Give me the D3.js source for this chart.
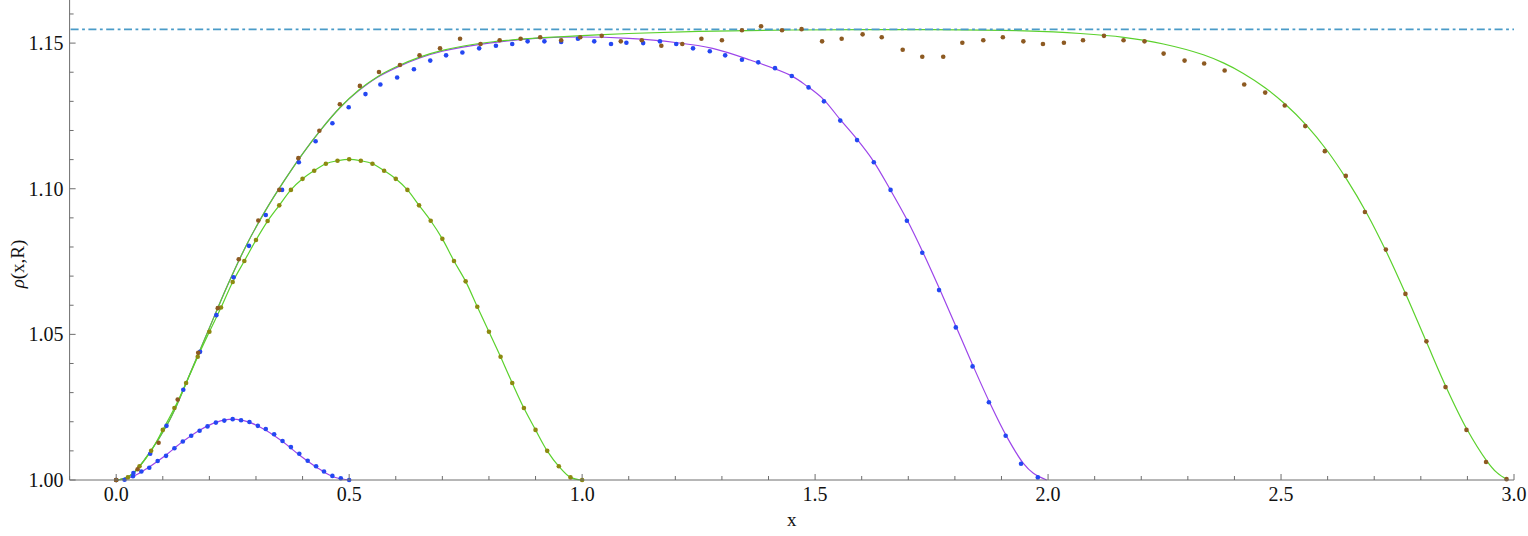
<!DOCTYPE html>
<html>
<head>
<meta charset="utf-8">
<script src="https://cdn.jsdelivr.net/npm/d3@7"></script>
<style>
  html, body { margin: 0; padding: 0; background: #fff; }
  svg { display: block; }
</style>
</head>
<body>
<svg id="chart" width="1528" height="536"></svg>
<script>
// ---------------- data ----------------
const xTicksMajor = [0.0, 0.5, 1.0, 1.5, 2.0, 2.5, 3.0];
const xTickLabels = ["0.0", "0.5", "1.0", "1.5", "2.0", "2.5", "3.0"];
const yTicksMajor = [1.00, 1.05, 1.10, 1.15];
const yTickLabels = ["1.00", "1.05", "1.10", "1.15"];
const refLevel = [1.1547];

// L = 0.5 : blue points (simulation) / purple curve
const dotsL05 = [[0,1.0000],[0.018,1.0001],[0.036,1.0013],[0.054,1.0029],[0.071,1.0042],[0.089,1.0065],[0.107,1.0083],[0.125,1.0109],[0.143,1.0132],[0.161,1.0152],[0.179,1.0169],[0.196,1.0184],[0.214,1.0197],[0.232,1.0204],[0.250,1.0209],[0.268,1.0205],[0.286,1.0199],[0.304,1.0186],[0.321,1.0175],[0.339,1.0157],[0.357,1.0134],[0.375,1.0113],[0.393,1.0090],[0.411,1.0066],[0.429,1.0047],[0.446,1.0029],[0.464,1.0014],[0.482,1.0006],[0.500,1.0000]];
const curveL05 = [[0,1.0000],[0.036,1.0012],[0.071,1.0045],[0.107,1.0086],[0.143,1.0132],[0.179,1.0171],[0.214,1.0198],[0.250,1.0209],[0.286,1.0198],[0.321,1.0171],[0.357,1.0132],[0.393,1.0086],[0.429,1.0045],[0.464,1.0012],[0.500,1.0000]];

// L = 1 : olive points / green curve
const dotsL1 = [[0,1.0000],[0.025,1.0009],[0.05,1.0047],[0.075,1.0100],[0.1,1.0172],[0.125,1.0247],[0.15,1.0333],[0.175,1.0423],[0.2,1.0509],[0.225,1.0592],[0.25,1.0680],[0.275,1.0752],[0.3,1.0824],[0.325,1.0889],[0.35,1.0943],[0.375,1.0996],[0.4,1.1034],[0.425,1.1062],[0.45,1.1086],[0.475,1.1096],[0.5,1.1101],[0.525,1.1096],[0.55,1.1086],[0.575,1.1062],[0.6,1.1034],[0.625,1.0996],[0.65,1.0943],[0.675,1.0890],[0.7,1.0828],[0.725,1.0752],[0.75,1.0682],[0.775,1.0595],[0.8,1.0509],[0.825,1.0423],[0.85,1.0333],[0.875,1.0247],[0.9,1.0172],[0.925,1.0100],[0.95,1.0047],[0.975,1.0009],[1.0,1.0000]];
const curveL1 = dotsL1;

// L = 2 : blue points / purple curve
const dotsL2 = [[0,1.0000],[0.037,1.0024],[0.073,1.0090],[0.108,1.0186],[0.144,1.0310],[0.180,1.0440],[0.215,1.0566],[0.252,1.0696],[0.285,1.0804],[0.321,1.0910],[0.356,1.0996],[0.392,1.1091],[0.428,1.1163],[0.464,1.1225],[0.499,1.1280],[0.535,1.1325],[0.567,1.1358],[0.603,1.1382],[0.639,1.1410],[0.674,1.1440],[0.708,1.1458],[0.743,1.1468],[0.779,1.1482],[0.815,1.1491],[0.850,1.1497],[0.883,1.1506],[0.919,1.1506],[0.955,1.1504],[0.991,1.1515],[1.026,1.1506],[1.062,1.1497],[1.095,1.1501],[1.131,1.1500],[1.167,1.1506],[1.202,1.1497],[1.238,1.1482],[1.274,1.1472],[1.307,1.1458],[1.343,1.1443],[1.378,1.1434],[1.414,1.1414],[1.450,1.1387],[1.486,1.1348],[1.519,1.1300],[1.554,1.1234],[1.590,1.1167],[1.626,1.1091],[1.662,1.0996],[1.697,1.0890],[1.730,1.0780],[1.766,1.0652],[1.802,1.0524],[1.838,1.0390],[1.873,1.0267],[1.909,1.0152],[1.942,1.0056],[1.978,1.0009]];
const curveL2 = [[0,1.0000],[0.018,1.0006],[0.037,1.0023],[0.073,1.0097],[0.109,1.0189],[0.13,1.0257],[0.16,1.0371],[0.20,1.0522],[0.24,1.0672],[0.28,1.0808],[0.32,1.0924],[0.36,1.1026],[0.40,1.1120],[0.44,1.1204],[0.48,1.1278],[0.52,1.1336],[0.56,1.1382],[0.60,1.1415],[0.65,1.1448],[0.70,1.1472],[0.80,1.1500],[0.90,1.1516],[1.00,1.1521],[1.10,1.1516],[1.20,1.1502],[1.28,1.1482],[1.3605,1.1442],[1.4464,1.1390],[1.4821,1.1353],[1.5179,1.1307],[1.5536,1.1238],[1.5894,1.1171],[1.6251,1.1095],[1.6609,1.0998],[1.6967,1.0895],[1.7325,1.0778],[1.7682,1.0652],[1.8040,1.0521],[1.8398,1.0389],[1.8755,1.0263],[1.9113,1.0149],[1.9470,1.0057],[1.9685,1.0023],[1.9971,1.0000]];

// L = 3 : brown points / green curve
const dotsL3 = [[0,1.0000],[0.046,1.0037],[0.091,1.0128],[0.132,1.0276],[0.176,1.0437],[0.218,1.0590],[0.263,1.0758],[0.305,1.0891],[0.350,1.0996],[0.391,1.1105],[0.436,1.1199],[0.480,1.1290],[0.523,1.1353],[0.564,1.1401],[0.609,1.1425],[0.651,1.1458],[0.695,1.1482],[0.738,1.1515],[0.782,1.1497],[0.823,1.1510],[0.868,1.1515],[0.910,1.1520],[0.955,1.1510],[0.996,1.1520],[1.042,1.1525],[1.083,1.1506],[1.128,1.1510],[1.170,1.1491],[1.215,1.1497],[1.256,1.1515],[1.300,1.1510],[1.343,1.1544],[1.384,1.1558],[1.429,1.1544],[1.471,1.1548],[1.515,1.1506],[1.557,1.1515],[1.602,1.1530],[1.643,1.1520],[1.688,1.1477],[1.730,1.1453],[1.775,1.1453],[1.816,1.1501],[1.861,1.1510],[1.903,1.1520],[1.947,1.1506],[1.989,1.1497],[2.034,1.1501],[2.075,1.1510],[2.120,1.1525],[2.162,1.1510],[2.207,1.1506],[2.248,1.1464],[2.293,1.1440],[2.335,1.1430],[2.379,1.1406],[2.421,1.1358],[2.466,1.1330],[2.508,1.1286],[2.552,1.1215],[2.594,1.1129],[2.639,1.1044],[2.680,1.0920],[2.725,1.0791],[2.767,1.0639],[2.812,1.0476],[2.853,1.0319],[2.898,1.0172],[2.940,1.0062],[2.984,1.0003]];
const curveL3 = [[0,1.0000],[0.018,1.0006],[0.037,1.0023],[0.073,1.0097],[0.109,1.0189],[0.13,1.0257],[0.16,1.0371],[0.20,1.0522],[0.24,1.0672],[0.28,1.0808],[0.32,1.0924],[0.36,1.1026],[0.40,1.1120],[0.44,1.1204],[0.48,1.1278],[0.52,1.1338],[0.56,1.1384],[0.60,1.1418],[0.65,1.1451],[0.70,1.1475],[0.80,1.1503],[0.90,1.1517],[1.00,1.1526],[1.10,1.1533],[1.25,1.1540],[1.45,1.1545],[1.75,1.1546],[1.95,1.1542],[2.069,1.1533],[2.162,1.1520],[2.2475,1.1497],[2.3333,1.1460],[2.3762,1.1432],[2.4191,1.1396],[2.4657,1.1347],[2.5086,1.1291],[2.5551,1.1217],[2.5980,1.1133],[2.6410,1.1032],[2.6839,1.0916],[2.7268,1.0781],[2.7697,1.0631],[2.8126,1.0472],[2.8555,1.0315],[2.8984,1.0176],[2.9414,1.0066],[2.9628,1.0026],[2.9864,1.0000]];

// ---------------- drawing ----------------
const svg = d3.select("#chart");
const x = d3.scaleLinear().domain([-0.1, 3.0]).range([69.6, 1514]);
const y = d3.scaleLinear().domain([1.0, 1.1648]).range([480, 0]);

const colPurple = "#9c45ea";
const colGreen = "#5bd12c";
const colBlue = "#2447f2";
const colOlive = "#8c8a10";
const colBrown = "#8d5a22";
const colRef = "#4a9bc8";
const axisCol = "#6e6e6e";

const line = d3.line().x(d => x(d[0])).y(d => y(d[1])).curve(d3.curveCatmullRom.alpha(0.5));

const curves = [
  {data: curveL2, color: colPurple},
  {data: curveL05, color: colPurple},
  {data: curveL1, color: colGreen},
  {data: curveL3, color: colGreen}
];
svg.append("g").selectAll("path").data(curves).join("path")
  .attr("d", d => line(d.data))
  .attr("fill", "none")
  .attr("stroke", d => d.color)
  .attr("stroke-width", 1.2);

// reference dash-dot line
svg.append("g").selectAll("line").data(refLevel).join("line")
  .attr("x1", x(-0.1) + 1).attr("x2", x(3.0))
  .attr("y1", d => y(d)).attr("y2", d => y(d))
  .attr("stroke", colRef).attr("stroke-width", 1.8)
  .attr("stroke-dasharray", "8,3.5,2.8,3.5");

// points
const pointSets = [
  {data: dotsL05, color: colBlue},
  {data: dotsL2, color: colBlue},
  {data: dotsL1, color: colOlive},
  {data: dotsL3, color: colBrown}
];
pointSets.forEach(s => {
  svg.append("g").selectAll("circle").data(s.data).join("circle")
    .attr("cx", d => x(d[0])).attr("cy", d => y(d[1]))
    .attr("r", 2.3).attr("fill", s.color);
});

// axes
const gx = svg.append("g").attr("transform", "translate(0,480)");
gx.append("line").attr("x1", x(-0.1)).attr("x2", x(3.0)).attr("y1", 0).attr("y2", 0)
  .attr("stroke", axisCol).attr("stroke-width", 1);
const xMinor = d3.range(-1, 31).map(i => i / 10);
gx.selectAll("line.tk").data(xMinor).join("line").attr("class", "tk")
  .attr("x1", d => x(d)).attr("x2", d => x(d))
  .attr("y1", 0).attr("y2", d => (Math.abs(d * 2 - Math.round(d * 2)) < 1e-6) ? -6 : -4)
  .attr("stroke", axisCol).attr("stroke-width", 1);
gx.selectAll("text").data(xTicksMajor).join("text")
  .attr("x", d => x(d)).attr("y", 21)
  .attr("text-anchor", "middle")
  .attr("font-family", "'Liberation Serif', 'Times New Roman', serif")
  .attr("font-size", 20)
  .attr("fill", "#111")
  .text((d, i) => xTickLabels[i]);

const gy = svg.append("g").attr("transform", `translate(${x(-0.1)},0)`);
gy.append("line").attr("x1", 0).attr("x2", 0).attr("y1", y(1.0)).attr("y2", 0)
  .attr("stroke", axisCol).attr("stroke-width", 1);
const yMinor = d3.range(0, 17).map(i => 1 + i / 100);
gy.selectAll("line.tk").data(yMinor).join("line").attr("class", "tk")
  .attr("x1", 0).attr("x2", (d, i) => (i % 5 === 0) ? 6 : 4)
  .attr("y1", d => y(d)).attr("y2", d => y(d))
  .attr("stroke", axisCol).attr("stroke-width", 1);
gy.selectAll("text").data(yTicksMajor).join("text")
  .attr("x", -6).attr("y", d => y(d))
  .attr("dy", "0.35em")
  .attr("text-anchor", "end")
  .attr("font-family", "'Liberation Serif', 'Times New Roman', serif")
  .attr("font-size", 20)
  .attr("fill", "#111")
  .text((d, i) => yTickLabels[i]);

// axis titles
svg.append("text")
  .attr("x", (x(-0.1) + x(3.0)) / 2).attr("y", 526)
  .attr("text-anchor", "middle")
  .attr("font-family", "'Liberation Serif', 'Times New Roman', serif")
  .attr("font-size", 19).attr("fill", "#111")
  .text("x");

const yl = svg.append("text")
  .attr("transform", "translate(24,264) rotate(-90)")
  .attr("text-anchor", "middle")
  .attr("font-family", "'Liberation Serif', 'Times New Roman', serif")
  .attr("font-size", 19).attr("fill", "#111");
yl.append("tspan").attr("font-style", "italic").text("ρ");
yl.append("tspan").text("(x,R)");
</script>
</body>
</html>
